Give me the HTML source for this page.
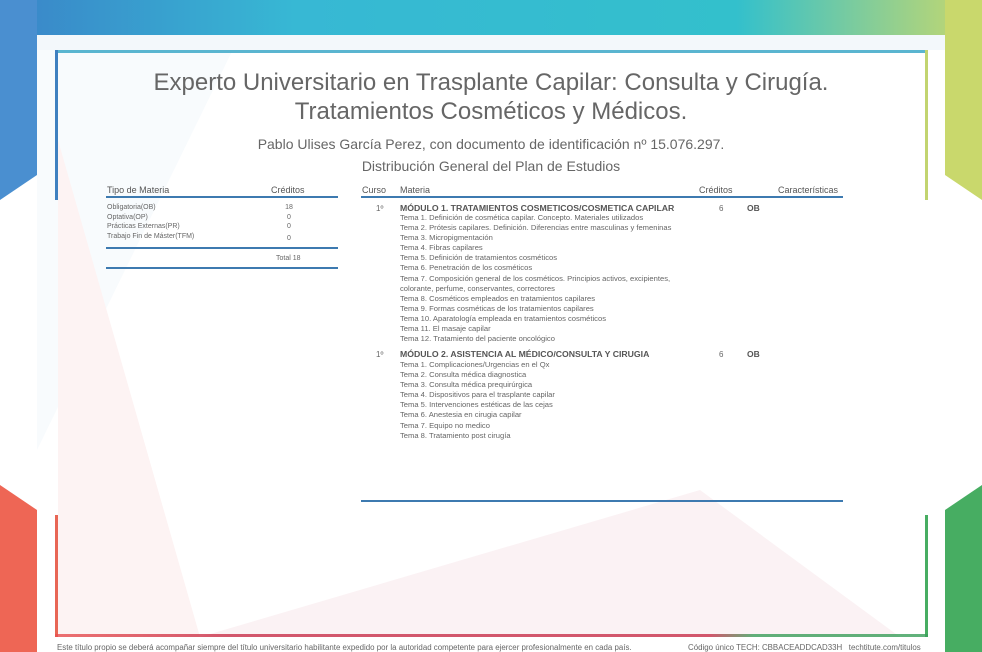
<!DOCTYPE html>
<html><head><meta charset="utf-8"><style>
body{margin:0;width:982px;height:652px;overflow:hidden;background:#fff;font-family:"Liberation Sans",sans-serif;color:#555;position:relative}
.a{position:absolute;white-space:nowrap}
.t{font-size:7px;line-height:10.1px;color:#666}
.h{height:2px;background:#3d7ab0;position:absolute}
</style></head><body>
<svg class="a" style="left:0;top:0" width="982" height="652">
<defs><linearGradient id="tg" x1="0" x2="1"><stop offset="0" stop-color="#3a84c8"/><stop offset=".3" stop-color="#37b8d4"/><stop offset=".75" stop-color="#33c0cc"/><stop offset="1" stop-color="#c9d86c"/></linearGradient>
<linearGradient id="bg" x1="0" x2="1"><stop offset="0" stop-color="#e84f4f"/><stop offset=".2" stop-color="#c8304a"/><stop offset=".75" stop-color="#c8304a"/><stop offset=".8" stop-color="#3a9e5a"/><stop offset="1" stop-color="#3a9e5a"/></linearGradient></defs>
<rect x="0" y="0" width="982" height="35" fill="url(#tg)"/>
<polygon points="0,0 37,0 37,175 0,200" fill="#4a8fd0"/>
<polygon points="945,0 982,0 982,200 945,175" fill="#c9d86c"/>
<polygon points="0,485 37,510 37,652 0,652" fill="#ee6655"/>
<polygon points="945,510 982,485 982,652 945,652" fill="#47ad62"/>
<rect x="37" y="35" width="908" height="617" fill="#fff"/>
<rect x="37" y="35" width="908" height="15" fill="#f3f8fb"/>
<polygon points="37,35 240,35 37,450" fill="#f4f8fc" opacity=".6"/>
<polygon points="200,637 700,490 900,637" fill="#fbf2f4"/>
<polygon points="58,140 58,637 200,637" fill="#fdf3f3"/>
<rect x="55" y="50" width="873" height="3" fill="#5ab5d0"/>
<rect x="55" y="50" width="3" height="150" fill="#3f80c0"/>
<rect x="925" y="50" width="3" height="150" fill="#c2d470"/>
<rect x="55" y="515" width="3" height="122" fill="#e86655"/>
<rect x="925" y="515" width="3" height="122" fill="#47ad62"/>
<rect x="55" y="634" width="873" height="3" fill="url(#bg)" opacity=".8"/>
</svg>
<div class="a" style="left:0;width:982px;top:68px;text-align:center;font-size:24px;line-height:29px;color:#666">Experto Universitario en Trasplante Capilar: Consulta y Cirugía.<br>Tratamientos Cosméticos y Médicos.</div>
<div class="a" style="left:0;width:982px;top:136px;text-align:center;font-size:14px;color:#666">Pablo Ulises García Perez, con documento de identificación nº 15.076.297.</div>
<div class="a" style="left:0;width:982px;top:158px;text-align:center;font-size:14px;color:#666">Distribución General del Plan de Estudios</div>

<div class="a" style="left:107px;top:185px;font-size:9px">Tipo de Materia</div>
<div class="a" style="left:271px;top:185px;font-size:9px">Créditos</div>
<div class="h" style="left:106px;top:196px;width:232px"></div>
<div class="a t" style="left:107px;top:203px;line-height:9.5px">Obligatoria(OB)<br>Optativa(OP)<br>Prácticas Externas(PR)<br>Trabajo Fin de Máster(TFM)</div>
<div class="a t" style="left:280px;width:18px;text-align:center;top:203px;line-height:9.7px">18<br>0<br>0<br><span style="position:relative;top:2px">0</span></div>
<div class="h" style="left:106px;top:247px;width:232px"></div>
<div class="a t" style="left:276px;top:254px">Total 18</div>
<div class="h" style="left:106px;top:267px;width:232px"></div>

<div class="a" style="left:362px;top:185px;font-size:9px">Curso</div>
<div class="a" style="left:400px;top:185px;font-size:9px">Materia</div>
<div class="a" style="left:699px;top:185px;font-size:9px">Créditos</div>
<div class="a" style="left:778px;top:185px;font-size:9px">Características</div>
<div class="h" style="left:361px;top:196px;width:482px"></div>

<div class="a t" style="left:376px;top:204px;font-size:8px">1º</div>
<div class="a" style="left:400px;top:203px;font-size:8.7px;font-weight:bold;color:#555">MÓDULO 1. TRATAMIENTOS COSMETICOS/COSMETICA CAPILAR</div>
<div class="a t" style="left:719px;top:204px;font-size:8px">6</div>
<div class="a" style="left:747px;top:203px;font-size:8.5px;font-weight:bold">OB</div>
<div class="a t" style="left:400px;top:213px;font-size:7.6px">Tema 1. Definición de cosmética capilar. Concepto. Materiales utilizados<br>Tema 2. Prótesis capilares. Definición. Diferencias entre masculinas y femeninas<br>Tema 3. Micropigmentación<br>Tema 4. Fibras capilares<br>Tema 5. Definición de tratamientos cosméticos<br>Tema 6. Penetración de los cosméticos<br>Tema 7. Composición general de los cosméticos. Principios activos, excipientes,<br>colorante, perfume, conservantes, correctores<br>Tema 8. Cosméticos empleados en tratamientos capilares<br>Tema 9. Formas cosméticas de los tratamientos capilares<br>Tema 10. Aparatología empleada en tratamientos cosméticos<br>Tema 11. El masaje capilar<br>Tema 12. Tratamiento del paciente oncológico</div>

<div class="a t" style="left:376px;top:350px;font-size:8px">1º</div>
<div class="a" style="left:400px;top:349px;font-size:8.7px;font-weight:bold;color:#555">MÓDULO 2. ASISTENCIA AL MÉDICO/CONSULTA Y CIRUGIA</div>
<div class="a t" style="left:719px;top:350px;font-size:8px">6</div>
<div class="a" style="left:747px;top:349px;font-size:8.5px;font-weight:bold">OB</div>
<div class="a t" style="left:400px;top:360px;font-size:7.6px">Tema 1. Complicaciones/Urgencias en el Qx<br>Tema 2. Consulta médica diagnostica<br>Tema 3. Consulta médica prequirúrgica<br>Tema 4. Dispositivos para el trasplante capilar<br>Tema 5. Intervenciones estéticas de las cejas<br>Tema 6. Anestesia en cirugia capilar<br>Tema 7. Equipo no medico<br>Tema 8. Tratamiento post cirugía</div>

<div class="h" style="left:361px;top:500px;width:482px"></div>

<div class="a" style="left:57px;top:643px;font-size:7.9px;color:#666">Este título propio se deberá acompañar siempre del título universitario habilitante expedido por la autoridad competente para ejercer profesionalmente en cada país.</div>
<div class="a" style="left:688px;top:643px;font-size:7.9px;color:#666">Código único TECH: CBBACEADDCAD33H &nbsp; techtitute.com/titulos</div>
</body></html>
